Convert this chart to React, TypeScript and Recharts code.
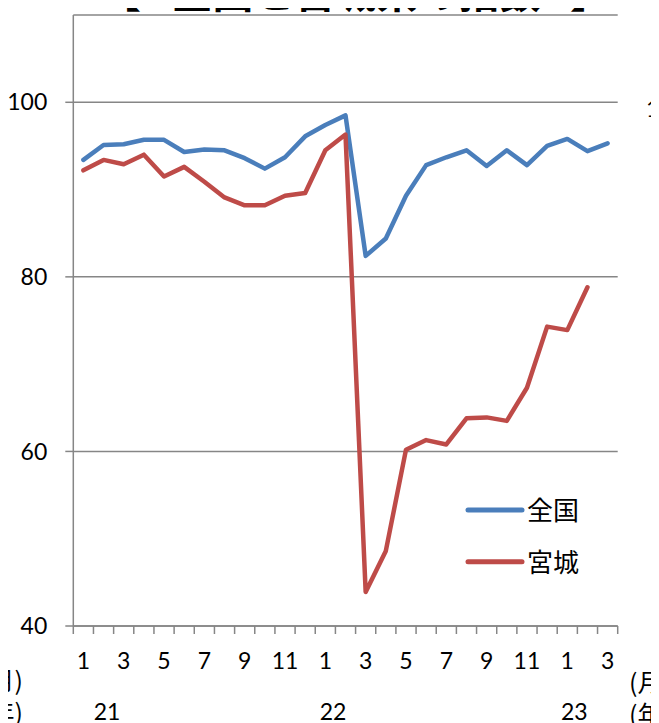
import * as React from "react";
import { LineChart, Line, XAxis, YAxis, CartesianGrid, Legend } from "recharts";

// months Jan 2021 .. Mar 2023
const months = [1, 2, 3, 4, 5, 6, 7, 8, 9, 10, 11, 12, 1, 2, 3, 4, 5, 6, 7, 8, 9, 10, 11, 12, 1, 2, 3];
const zenkoku = [93.4, 95.1, 95.2, 95.7, 95.7, 94.3, 94.6, 94.5, 93.6, 92.4, 93.7, 96.1, 97.4, 98.5, 82.4, 84.4, 89.3, 92.8, 93.7, 94.5, 92.7, 94.5, 92.8, 95.0, 95.8, 94.4, 95.3];
const miyagi = [92.2, 93.4, 92.9, 94.0, 91.5, 92.6, 90.9, 89.1, 88.2, 88.2, 89.3, 89.6, 94.5, 96.3, 43.9, 48.6, 60.2, 61.3, 60.8, 63.8, 63.9, 63.5, 67.3, 74.3, 73.9, 78.8, null];
const yTicks = [40, 60, 80, 100];
const monthTicks = [0, 2, 4, 6, 8, 10, 12, 14, 16, 18, 20, 22, 24, 26];
const yearLabels = ["21", "22", "23"];
const yearPositions = [1.17, 12.38, 24.35];

const data = months.map((m, i) => ({ idx: i, month: m, zenkoku: zenkoku[i], miyagi: miyagi[i] }));
const boundaryTicks = months.map((_, i) => i - 0.5).concat(months.length - 0.5);
const domain = [-0.5, months.length - 0.5];

const GRAY = "#868686";
const NUM_FONT = "Lato, 'Noto Sans CJK JP', sans-serif";
const JP_FONT = "'Noto Sans CJK JP', sans-serif";

const MonthTick = (props: any) => {
	const { x, y, payload } = props;
	return <text x={x} y={y} dy={27} textAnchor="middle" fontFamily={NUM_FONT} fontSize={23} fill="#000">
		{months[payload.value]}
	</text>;
};

const YearTick = (props: any) => {
	const { x, y, payload } = props;
	const i = yearPositions.indexOf(payload.value);
	return <text x={x} y={y} dy={38} textAnchor="middle" fontFamily={NUM_FONT} fontSize={23} fill="#000">
		{yearLabels[i]}
	</text>;
};

const renderLegend = (props: any) => {
	const items = props.payload || [];
	return <svg width={140} height={100} style={{ display: "block" }}>
		{items.map((it: any, i: number) => {
			const cy = 25 + i * 51.7;
			return <g key={i}>
				<line x1={8} x2={62} y1={cy} y2={cy} stroke={it.color} strokeWidth={5} strokeLinecap="round" />
				<text x={67} y={cy + 10} fontFamily={JP_FONT} fontSize={26} fill="#000">{it.value}</text>
			</g>;
		})}
	</svg>;
};

const App: React.FC = () => {
	return <div style={{ position: "relative", width: 659, height: 723, marginLeft: -8, marginTop: -8 }}>
		<LineChart
			width={659}
			height={723}
			data={data}
			margin={{ top: 15, right: 41.3, bottom: 9, left: 13.3 }}
		>
			<CartesianGrid vertical={false} stroke={GRAY} strokeWidth={1.5} />
			<YAxis
				type="number"
				domain={[40, 110]}
				ticks={yTicks}
				width={60}
				tickSize={8}
				tickMargin={18}
				interval={0}
				axisLine={{ stroke: GRAY, strokeWidth: 1.5 }}
				tickLine={{ stroke: GRAY, strokeWidth: 1.5 }}
				tick={{ fill: "#000", fontSize: 23, fontFamily: NUM_FONT }}
			/>
			<XAxis
				dataKey="idx"
				type="number"
				domain={domain}
				ticks={boundaryTicks}
				interval={0}
				height={8}
				tickSize={8}
				axisLine={{ stroke: GRAY, strokeWidth: 1.5 }}
				tickLine={{ stroke: GRAY, strokeWidth: 1.5 }}
				tick={() => <g />}
			/>
			<XAxis
				xAxisId="m"
				dataKey="idx"
				type="number"
				domain={domain}
				ticks={monthTicks}
				interval={0}
				height={40}
				axisLine={false}
				tickLine={false}
				tick={MonthTick}
			/>
			<XAxis
				xAxisId="y"
				dataKey="idx"
				type="number"
				domain={domain}
				ticks={yearPositions}
				interval={0}
				height={40}
				axisLine={false}
				tickLine={false}
				tick={YearTick}
			/>
			<Legend
				layout="vertical"
				align="center"
				verticalAlign="middle"
				content={renderLegend}
				wrapperStyle={{ left: 460, top: 485, width: 140, height: 100 }}
			/>
			<Line dataKey="zenkoku" name="全国" stroke="#4a7ebb" strokeWidth={4.5} dot={false} strokeLinejoin="round" strokeLinecap="round" isAnimationActive={false} />
			<Line dataKey="miyagi" name="宮城" stroke="#be4b48" strokeWidth={4.5} dot={false} strokeLinejoin="round" strokeLinecap="round" isAnimationActive={false} />
		</LineChart>
		<svg width={659} height={723} style={{ position: "absolute", left: 0, top: 0, pointerEvents: "none" }}>
			<g fontFamily={JP_FONT} fontSize={41} fontWeight={700} fill="#000">
				<text x={100} y={8}>【</text>
				<text x={356} y={8} textAnchor="middle">全国と宮城県の指数</text>
				<text x={570} y={8}>】</text>
			</g>
			<text x={646} y={117} fontFamily={NUM_FONT} fontSize={23} fill="#000">100</text>
			<g fontFamily={JP_FONT} fontSize={25} fill="#000">
				<text x={23} y={690} textAnchor="end">月)</text>
				<text x={23} y={722} textAnchor="end">年)</text>
				<text x={629} y={692}>(月</text>
				<text x={629} y={724}>(年</text>
			</g>
		</svg>
	</div>;
};

export default App;
